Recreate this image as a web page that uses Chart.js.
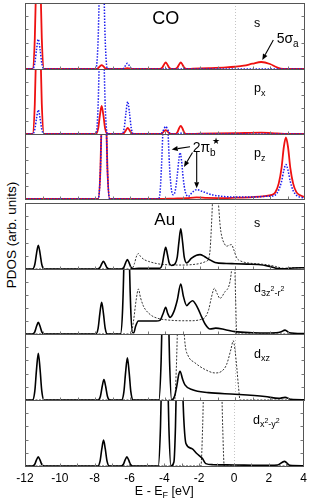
<!DOCTYPE html>
<html>
<head>
<meta charset="utf-8">
<script src="https://cdn.jsdelivr.net/npm/chart.js@4"></script>
<style>
  body { margin: 0; background: #fff; width: 312px; height: 501px; position: relative; overflow: hidden;
         font-family: "Liberation Sans", Arial, sans-serif; }
  canvas { position: absolute; left: 0; }
  #ylab { position: absolute; left: 10.5px; top: 235px; transform: translate(-50%, -50%) rotate(-90deg);
          font-size: 13.5px; white-space: nowrap; color: #000; }
</style>
</head>
<body>
<div id="ylab">PDOS (arb. units)</div>
<script>
// energy axis
const energyTicks = [-12, -10, -8, -6, -4, -2, 0, 2, 4];
const energyMinor = [-11, -10, -9, -8, -7, -6, -5, -4, -3, -2, -1, 0, 1, 2, 3];
const pdosMinor = [1, 2, 3, 4];

// CO s
const coS_red = [[-12,0],[-11.57,0],[-11.44,2.3],[-11.34,7.9],[-11.24,12],[-11.14,7.9],[-11.04,2.3],[-10.91,0],
  [-7.95,0],[-7.82,0.06],[-7.72,0.2],[-7.62,0.3],[-7.52,0.2],[-7.42,0.06],[-7.29,0],
  [-6.45,0],[-6.15,0.06],[-5.85,0],
  [-4.29,0],[-4.16,0.1],[-4.06,0.33],[-3.96,0.5],[-3.86,0.33],[-3.76,0.1],[-3.63,0],
  [-3.43,0],[-3.3,0.1],[-3.2,0.33],[-3.1,0.5],[-3.0,0.33],[-2.9,0.1],[-2.77,0],
  [-2.4,0.02],[-1.5,0.06],[-0.5,0.12],[0,0.17],[0.5,0.25],[1,0.4],[1.5,0.53],[2.0,0.38],[2.4,0.12],[2.75,0],[4,0]];
const coS_blue = [[-12,0],[-11.57,0],[-11.44,0.43],[-11.34,1.49],[-11.24,2.25],[-11.14,1.49],[-11.04,0.43],[-10.91,0],
  [-7.95,0],[-7.82,2.3],[-7.72,7.9],[-7.62,12],[-7.52,7.9],[-7.42,2.3],[-7.29,0],
  [-6.48,0],[-6.35,0.08],[-6.25,0.28],[-6.15,0.43],[-6.05,0.28],[-5.95,0.08],[-5.82,0],[4,0]];

// CO px
const coPx_red = [[-12,0],[-11.57,0],[-11.44,2.3],[-11.34,7.9],[-11.24,12],[-11.14,7.9],[-11.04,2.3],[-10.91,0],
  [-7.95,0],[-7.82,0.41],[-7.72,1.43],[-7.62,2.16],[-7.52,1.43],[-7.42,0.41],[-7.29,0],
  [-6.46,0],[-6.33,0.09],[-6.23,0.3],[-6.13,0.46],[-6.03,0.3],[-5.93,0.09],[-5.8,0],
  [-4.29,0],[-4.16,0.06],[-4.06,0.2],[-3.96,0.3],[-3.86,0.2],[-3.76,0.06],[-3.63,0],
  [-3.43,0],[-3.3,0.12],[-3.2,0.42],[-3.1,0.63],[-3.0,0.42],[-2.9,0.12],[-2.77,0],
  [-2,0.02],[0,0.06],[1.5,0.1],[2.4,0.04],[3,0],[4,0]];
const coPx_blue = [[-12,0],[-11.57,0],[-11.44,0.35],[-11.34,1.22],[-11.24,1.85],[-11.14,1.22],[-11.04,0.35],[-10.91,0],
  [-7.95,0],[-7.82,2.3],[-7.72,7.9],[-7.62,12],[-7.52,7.9],[-7.42,2.3],[-7.29,0],
  [-6.46,0],[-6.33,0.47],[-6.23,1.64],[-6.13,2.49],[-6.03,1.64],[-5.93,0.47],[-5.8,0],
  [-4.29,0],[-4.16,0.11],[-4.06,0.38],[-3.96,0.58],[-3.86,0.38],[-3.76,0.11],[-3.63,0],
  [-3.35,0],[-3.1,0.06],[-2.85,0],[4,0]];

// CO pz
const coPz_red = [[-12,0],[-7.82,0],[-7.69,2.3],[-7.59,7.9],[-7.49,12],[-7.39,7.9],[-7.29,2.3],[-7.16,0],
  [-4.3,0],[-3.5,0.03],[-2.8,0.06],[-2.2,0.12],[-1.6,0.08],[-1,0.07],[0,0.1],[1,0.15],[1.7,0.22],[2.1,0.32],
  [2.3,0.5],[2.5,1.2],[2.66,2.4],[2.79,4.0],[2.91,4.73],[3.03,4.0],[3.16,2.4],[3.32,1.2],[3.5,0.55],[3.7,0.3],[4,0.15]];
const coPz_blue = [[-12,0],[-7.82,0],[-7.69,2.3],[-7.59,7.9],[-7.49,12],[-7.39,7.9],[-7.29,2.3],[-7.16,0],
  [-4.4,0],[-4.3,0.3],[-4.2,2.5],[-4.1,6],[-3.98,10],[-3.85,6],[-3.74,2.5],[-3.62,0.6],[-3.52,0.33],
  [-3.42,0.6],[-3.3,1.8],[-3.21,3.0],[-3.14,3.57],[-3.06,3.0],[-2.96,1.6],[-2.85,0.6],[-2.67,0.2],
  [-2.45,0.5],[-2.19,0.72],[-1.9,0.6],[-1.6,0.45],[-1.33,0.33],[-0.7,0.2],[0,0.15],[1,0.15],[1.7,0.2],[2.1,0.22],
  [2.3,0.3],[2.5,0.7],[2.66,1.35],[2.79,2.2],[2.91,2.66],[3.03,2.2],[3.16,1.35],[3.32,0.65],[3.5,0.3],[3.7,0.15],[4,0.08]];

// Au s
const auS_solid = [[-12,0],[-11.57,0],[-11.44,0.34],[-11.34,1.19],[-11.24,1.8],[-11.14,1.19],[-11.04,0.34],[-10.91,0],
  [-7.85,0],[-7.72,0.11],[-7.62,0.38],[-7.52,0.58],[-7.42,0.38],[-7.32,0.11],[-7.19,0],
  [-6.48,0],[-6.35,0.13],[-6.25,0.47],[-6.15,0.71],[-6.05,0.47],[-5.95,0.13],[-5.82,0.02],
  [-5.5,0.05],[-4.5,0.05],[-4.29,0.06],[-4.16,0.35],[-4.06,1.1],[-3.96,1.65],[-3.86,1.1],[-3.76,0.45],[-3.62,0.27],
  [-3.42,0.4],[-3.3,0.9],[-3.2,2.1],[-3.1,3.05],[-3.0,2.1],[-2.9,0.9],[-2.76,0.46],
  [-2.5,0.8],[-2.2,1.05],[-2.0,1.09],[-1.75,0.95],[-1.52,0.76],[-1.14,0.5],[-0.5,0.42],[0,0.4],[0.7,0.37],
  [1.33,0.34],[1.9,0.22],[2.29,0.08],[2.6,0.02],[2.9,0.01],[3.3,0.08],[4,0.1]];
const auS_dash = [[-12,0],[-5.9,0],[-5.75,0.4],[-5.62,1.0],[-5.52,1.17],[-5.4,0.95],[-5.2,0.72],[-4.95,0.58],[-4.5,0.42],
  [-4,0.33],[-3,0.3],[-2.48,0.33],[-2,0.42],[-1.7,0.55],[-1.52,0.75],[-1.42,1.5],[-1.32,4],[-1.22,7],[-1.08,6.5],
  [-0.95,5],[-0.85,3.3],[-0.76,2.49],[-0.6,1.9],[-0.48,1.73],[-0.3,1.82],[-0.2,1.85],[-0.08,1.5],[0.1,0.84],
  [0.3,0.62],[0.57,0.5],[1,0.42],[1.71,0.34],[2.3,0.2],[2.8,0.05],[3.2,0.08],[4,0.1]];

// Au d3z2-r2
const auDz2_solid = [[-12,0],[-11.57,0],[-11.44,0.17],[-11.34,0.59],[-11.24,0.9],[-11.14,0.59],[-11.04,0.17],[-10.91,0],
  [-7.95,0],[-7.82,0.46],[-7.72,1.61],[-7.62,2.44],[-7.52,1.61],[-7.42,0.46],[-7.29,0],
  [-6.55,0],[-6.42,2],[-6.33,7],[-6.19,25],[-6.05,7],[-5.96,2],[-5.85,0.1],[-5.78,0.1],
  [-5.68,0.6],[-5.52,1.0],[-5,1.0],[-4.5,1.0],[-4.29,1.05],[-4.1,1.6],[-3.96,2.05],[-3.85,1.6],[-3.71,1.28],
  [-3.5,1.7],[-3.3,2.6],[-3.1,3.85],[-2.95,2.9],[-2.76,2.18],[-2.6,2.4],[-2.42,2.56],[-2.25,2.3],[-2.1,1.92],
  [-1.9,1.3],[-1.71,0.77],[-1.43,0.38],[-1.1,0.45],[-0.6,0.35],[0,0.18],[1,0.1],[2,0.08],[2.6,0.15],[2.86,0.3],
  [3.1,0.1],[4,0.03]];
const auDz2_dash = [[-12,0],[-5.95,0],[-5.8,1.0],[-5.65,2.6],[-5.52,3.46],[-5.4,2.8],[-5.25,2.2],[-5.14,1.92],
  [-4.76,1.41],[-4.4,1.2],[-4,1.1],[-3,1.02],[-2.48,1.02],[-2,1.1],[-1.71,1.28],[-1.5,1.9],[-1.35,2.8],
  [-1.18,3.51],[-1.02,3.1],[-0.86,2.74],[-0.6,3.2],[-0.29,4.0],[-0.15,5.5],[-0.05,7],[0.03,3],[0.1,0],[4,0]];

// Au dxz
const auDxz_solid = [[-12,0],[-11.57,0],[-11.44,0.67],[-11.34,2.34],[-11.24,3.54],[-11.14,2.34],[-11.04,0.67],[-10.91,0],
  [-7.82,0],[-7.69,0.29],[-7.59,1.02],[-7.49,1.54],[-7.39,1.02],[-7.29,0.29],[-7.16,0],
  [-6.48,0],[-6.35,0.61],[-6.25,2.11],[-6.15,3.2],[-6.05,2.11],[-5.95,0.61],[-5.82,0],
  [-4.35,0],[-4.22,3],[-4.12,9],[-3.98,15],[-3.84,9],[-3.74,3],[-3.62,0],
  [-3.45,0.3],[-3.33,1.03],[-3.22,1.9],[-3.14,2.18],[-3.0,1.6],[-2.86,1.15],[-2.43,0.77],[-1.52,0.56],[0,0.44],
  [1.71,0.26],[2.5,0.12],[2.86,0.2],[3.2,0.05],[4,0.02]];
const auDxz_dash = [[-12,0],[-3.45,0],[-3.35,2.5],[-3.25,7],[-3.1,9],[-2.95,6],[-2.85,4.2],[-2.67,3.33],[-2.29,2.82],
  [-1.71,2.31],[-1.14,2.05],[-0.76,2.18],[-0.48,2.69],[-0.23,3.85],[-0.1,4.49],[0.0,3.8],[0.1,2.5],[0.2,1.0],
  [0.29,0],[4,0]];

// Au dx2-y2
const auDx2_solid = [[-12,0],[-11.57,0],[-11.44,0.13],[-11.34,0.46],[-11.24,0.69],[-11.14,0.46],[-11.04,0.13],[-10.91,0],
  [-7.82,0],[-7.69,0.37],[-7.59,1.29],[-7.49,1.96],[-7.39,1.29],[-7.29,0.37],[-7.16,0],
  [-6.48,0],[-6.35,0.13],[-6.25,0.46],[-6.15,0.69],[-6.05,0.46],[-5.95,0.13],[-5.82,0],
  [-4.35,0],[-4.22,3],[-4.12,9],[-3.98,15],[-3.84,9],[-3.74,3],[-3.62,0],
  [-3.45,0.3],[-3.36,3],[-3.28,8],[-3.13,12],[-2.98,7],[-2.88,3.5],[-2.76,1.71],[-2.43,1.33],[-2.14,0.95],
  [-1.81,0.56],[-1.62,0.18],[-1.2,0.1],[0,0.08],[1.5,0.05],[2.5,0.08],[2.9,0.35],[3.2,0.05],[4,0.02]];
const auDx2_dash = [[-12,0],[-1.9,0],[-1.8,3],[-1.7,8],[-1.2,10],[-0.75,8],[-0.65,3],[-0.56,0],[4,0]];

// order: lower value is drawn on top
const RED = { color: '#ee1111', width: 1.8, dash: [], order: 2 };
const BLUE = { color: '#1a1aee', width: 1.5, dash: [1.5, 1.5], order: 1 };
const SOLID = { color: '#000', width: 1.6, dash: [], order: 1 };
const DASH = { color: '#333', width: 1, dash: [2, 1.5], order: 2 };

const FONT = '"Liberation Sans", Arial, sans-serif';
Chart.defaults.font.family = FONT;

// label pieces: [text, size, dy, dx]
const panels = [
  { top: 3, bottom: 69, curves: [[coS_red, RED], [coS_blue, BLUE]],
    label: [['s', 12.5, 0]],
    texts: [{ x: -4.73, y: 3.39, parts: [['CO', 18, 0]] },
            { x: 2.38, y: 1.95, parts: [['5σ', 14, 0], ['a', 10, 3.5]] }],
    arrows: [[2.19, 2.2, 1.56, 0.68]] },
  { top: 69, bottom: 134, curves: [[coPx_red, RED], [coPx_blue, BLUE]],
    label: [['p', 12.5, 0], ['x', 9, 3.5]] },
  { top: 134, bottom: 199, curves: [[coPz_red, RED], [coPz_blue, BLUE]],
    label: [['p', 12.5, 0], ['z', 9, 3.5]],
    texts: [{ x: -2.42, y: 3.62, parts: [['2π', 14, 0], ['b', 10, 4], ['★', 9, -8, -4]] }],
    arrows: [[-2.571, 4.02, -3.617, 3.81], [-2.429, 3.58, -2.914, 2.46], [-2.189, 3.64, -2.189, 0.82]] },
  { top: 203, bottom: 269, curves: [[auS_solid, SOLID], [auS_dash, DASH]],
    label: [['s', 12.5, 0]],
    texts: [{ x: -4.61, y: 3.33, parts: [['Au', 17, 0]] }] },
  { top: 269, bottom: 334, curves: [[auDz2_solid, SOLID], [auDz2_dash, DASH]],
    label: [['d', 12.5, 0], ['3z', 9, 3.5], ['2', 7, -1], ['-r', 9, 3.5], ['2', 7, -1]] },
  { top: 334, bottom: 400, curves: [[auDxz_solid, SOLID], [auDxz_dash, DASH]],
    label: [['d', 12.5, 0], ['xz', 9, 3.5]] },
  { top: 400, bottom: 466, curves: [[auDx2_solid, SOLID], [auDx2_dash, DASH]],
    label: [['d', 12.5, 0], ['x', 9, 3.5], ['2', 7, -1], ['-y', 9, 3.5], ['2', 7, -1]] },
];

function rich(ctx, x, y, parts) {
  let cx = x;
  for (const [t, size, dy, dx] of parts) {
    ctx.font = `${size}px ${FONT}`;
    cx += dx || 0;
    ctx.fillText(t, cx, y + dy);
    cx += ctx.measureText(t).width;
  }
}

function arrow(ctx, x1, y1, x2, y2) {
  const ang = Math.atan2(y2 - y1, x2 - x1);
  const hl = 6, hw = 2.5;
  const bx = x2 - hl * Math.cos(ang), by = y2 - hl * Math.sin(ang);
  ctx.beginPath(); ctx.moveTo(x1, y1); ctx.lineTo(bx, by); ctx.stroke();
  ctx.beginPath();
  ctx.moveTo(x2, y2);
  ctx.lineTo(bx + hw * Math.sin(ang), by - hw * Math.cos(ang));
  ctx.lineTo(bx - hw * Math.sin(ang), by + hw * Math.cos(ang));
  ctx.closePath(); ctx.fill();
}

const zeroLine = {
  id: 'zeroLine',
  beforeDatasetsDraw(chart) {
    const { ctx, chartArea: a, scales: { x } } = chart;
    const x0 = Math.round(x.getPixelForValue(0)) + 0.5;
    ctx.save();
    ctx.strokeStyle = '#c4c4c4'; ctx.lineWidth = 1; ctx.setLineDash([1, 2]);
    ctx.beginPath(); ctx.moveTo(x0, a.top); ctx.lineTo(x0, a.bottom); ctx.stroke();
    ctx.restore();
  }
};

const frame = {
  id: 'frame',
  afterDraw(chart, args, opts) {
    const { ctx, chartArea: a, scales: { x, y } } = chart;
    const p = opts.panel;
    const L = Math.round(a.left) + 0.5, R = Math.round(a.right) - 0.5;
    const T = Math.round(a.top) + 0.5, B = Math.round(a.bottom) + 0.5;
    ctx.save();
    ctx.strokeStyle = '#555'; ctx.lineWidth = 1;
    ctx.strokeRect(L, T, R - L, B - T);
    ctx.strokeStyle = '#777';
    ctx.beginPath();
    for (const v of pdosMinor) {
      const py = Math.round(y.getPixelForValue(v)) + 0.5;
      ctx.moveTo(L, py); ctx.lineTo(L + 3, py);
      ctx.moveTo(R, py); ctx.lineTo(R - 3, py);
    }
    for (const v of energyMinor) {
      const px = Math.round(x.getPixelForValue(v)) + 0.5;
      ctx.moveTo(px, B); ctx.lineTo(px, B - 3);
    }
    ctx.stroke();

    ctx.fillStyle = '#000'; ctx.strokeStyle = '#000'; ctx.lineWidth = 1.1;
    ctx.textBaseline = 'alphabetic';
    rich(ctx, x.getPixelForValue(1.09), y.getPixelForValue(3.2), p.label);
    for (const t of (p.texts || [])) rich(ctx, x.getPixelForValue(t.x), y.getPixelForValue(t.y), t.parts);
    for (const [x1, y1, x2, y2] of (p.arrows || [])) {
      arrow(ctx, x.getPixelForValue(x1), y.getPixelForValue(y1), x.getPixelForValue(x2), y.getPixelForValue(y2));
    }
    if (opts.last) {
      // axis title centred on the plot area
      const cx = (a.left + a.right) / 2, by = a.bottom + 29;
      ctx.font = `12.5px ${FONT}`;
      const s1 = 'E - E', s2 = 'F', s3 = ' [eV]';
      const w1 = ctx.measureText(s1).width, w3 = ctx.measureText(s3).width;
      ctx.font = `9px ${FONT}`;
      const w2 = ctx.measureText(s2).width;
      rich(ctx, cx - (w1 + w2 + w3) / 2, by, [[s1, 12.5, 0], [s2, 9, 3], [s3, 12.5, 0]]);
    }
    ctx.restore();
  }
};

panels.forEach((p, i) => {
  const last = i === panels.length - 1;
  const cv = document.createElement('canvas');
  const ctop = p.top - 2;
  const h = last ? 501 - ctop : (p.bottom - p.top) + 4;
  cv.width = 312; cv.height = h;
  cv.style.width = '312px'; cv.style.height = h + 'px';
  cv.style.top = ctop + 'px';
  document.body.appendChild(cv);

  const xScale = {
    type: 'linear', min: -12, max: 4, display: last,
    afterBuildTicks: (s) => { s.ticks = energyTicks.map((v) => ({ value: v })); },
    ticks: { color: '#000', font: { size: 12 }, padding: 5, maxRotation: 0, autoSkip: false,
             callback: (v) => String(v) },
    grid: { display: false, drawTicks: false },
    border: { display: false }
  };
  if (last) xScale.afterFit = (s) => { s.height = 501 - p.bottom; };

  new Chart(cv, {
    type: 'line',
    data: {
      datasets: p.curves.map(([data, st]) => ({
        data, borderColor: st.color, borderWidth: st.width, borderDash: st.dash, order: st.order,
        pointRadius: 0, fill: false, cubicInterpolationMode: 'monotone'
      }))
    },
    options: {
      responsive: false, animation: false, devicePixelRatio: 1,
      layout: { padding: { left: 25, right: 7, top: 2, bottom: last ? 0 : 2 } },
      plugins: { legend: { display: false }, tooltip: { enabled: false }, frame: { panel: p, last } },
      scales: { x: xScale, y: { min: 0, max: 5, display: false } }
    },
    plugins: [zeroLine, frame]
  });
});
</script>
</body>
</html>
